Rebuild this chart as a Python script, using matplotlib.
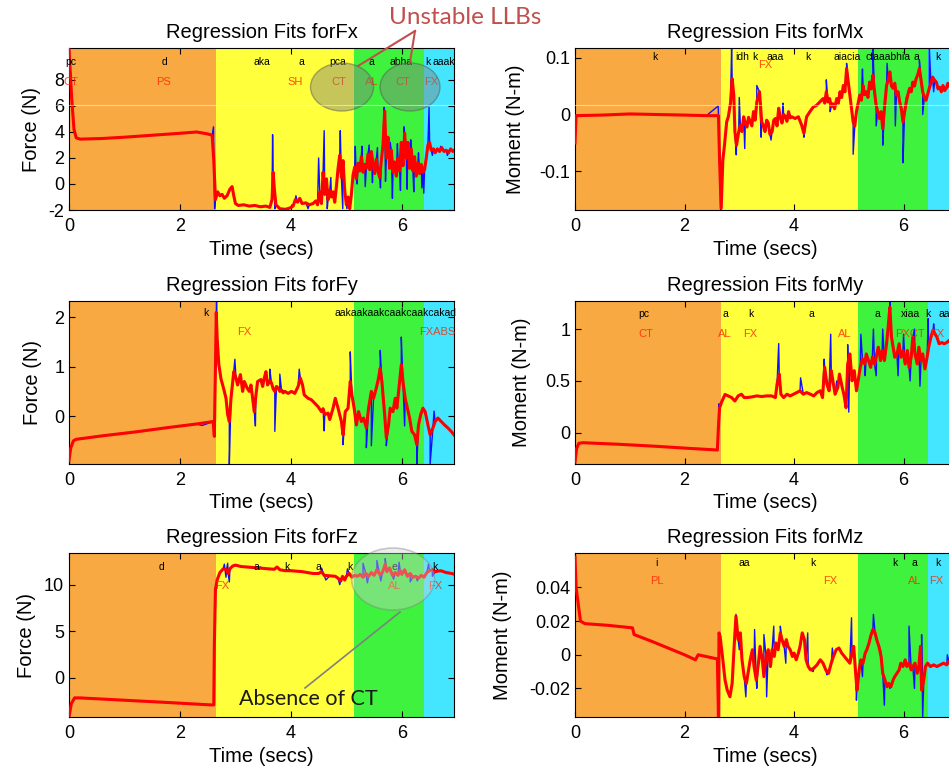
import numpy as np
import matplotlib
matplotlib.use("Agg")
import matplotlib.pyplot as plt
import matplotlib.transforms as mtransforms
from matplotlib.patches import Ellipse
from matplotlib.lines import Line2D

plt.rcParams['font.family'] = ['Liberation Sans', 'DejaVu Sans']
plt.rcParams['axes.unicode_minus'] = False

# phase boundaries (secs) and their colours
bounds_left = [0, 2.65, 5.13, 6.40, 7.0]
bounds_right = [0, 2.66, 5.17, 6.45, 7.0]
phase_colors = ['#F8A942', '#FFFF3C', '#3EF23E', '#44E6FF']

xticks = [0, 2, 4, 6]

# ---- Fx ----
fx_red = [(0.00, 10.4), (0.05, 6.5), (0.09, 4.2), (0.13, 3.55), (0.2, 3.45), (0.6, 3.5), (1.0, 3.6),
          (1.5, 3.75), (2.0, 3.9), (2.3, 4.0), (2.5, 3.85), (2.58, 3.75),
          (2.61, 1.8), (2.64, -1.2), (2.68, -0.6), (2.72, -0.9), (2.76, -0.8), (2.80, -1.1), (2.85, -0.9),
          (2.90, -0.4), (2.94, -0.2), (2.97, -0.9), (3.00, -1.5), (3.05, -1.65), (3.15, -1.6), (3.25, -1.7),
          (3.35, -1.65), (3.45, -1.75), (3.55, -1.7), (3.62, -1.8), (3.66, -1.2), (3.68, 0.9), (3.70, -0.3),
          (3.73, -1.6), (3.80, -1.9), (3.90, -1.95), (3.98, -1.85), (4.04, -1.7), (4.08, -1.2), (4.12, -1.4),
          (4.16, -1.1), (4.20, -1.5), (4.27, -1.45), (4.33, -1.6), (4.40, -1.5), (4.45, -1.3), (4.48, -1.6),
          (4.52, -0.6), (4.55, -1.5), (4.58, 0.9), (4.61, -0.8), (4.64, 0.4), (4.67, -1.2), (4.70, -0.5),
          (4.73, -1.0), (4.76, -0.6), (4.79, -1.4), (4.82, -0.2), (4.85, 1.2), (4.88, 2.2), (4.91, 0.5),
          (4.94, 1.8), (4.97, -0.5), (5.00, -1.6), (5.03, -1.0), (5.06, -1.9), (5.09, -0.8), (5.12, 0.7),
          (5.15, 1.3), (5.18, 0.4), (5.21, 1.6), (5.24, 1.0), (5.27, 2.1), (5.30, 0.9), (5.33, 1.5),
          (5.36, 1.2), (5.39, 2.3), (5.42, 1.1), (5.45, 2.5), (5.48, 1.6), (5.51, 0.8), (5.54, 1.9),
          (5.57, 1.0), (5.60, 0.5), (5.63, 1.8), (5.66, 3.0), (5.69, 5.6), (5.72, 2.0), (5.75, 3.6),
          (5.78, 1.2), (5.81, 2.6), (5.84, 0.9), (5.87, 1.7), (5.90, 0.6), (5.93, 2.0), (5.96, 1.0),
          (5.99, 3.2), (6.02, 1.4), (6.05, 3.9), (6.08, 2.0), (6.11, 3.2), (6.14, 1.2), (6.17, 2.7),
          (6.20, 1.0), (6.23, 2.1), (6.26, 0.6), (6.29, 1.6), (6.32, 0.8), (6.35, 1.5), (6.38, 0.9),
          (6.41, 1.1), (6.44, 2.0), (6.47, 3.0), (6.50, 3.2), (6.53, 2.6), (6.57, 2.7), (6.60, 2.4),
          (6.64, 2.7), (6.68, 2.5), (6.72, 2.8), (6.76, 2.5), (6.80, 2.6), (6.84, 2.4), (6.88, 2.7),
          (6.92, 2.5), (6.95, 2.6)]
fx_blue_extra = [(2.605, 4.4), (2.625, -1.9), (3.67, 3.8), (3.71, -1.9), (4.09, -0.9), (4.31, -1.9),
                 (4.50, 2.0), (4.60, 4.1), (4.655, -1.9), (4.72, 0.5), (4.89, 4.1), (4.935, -1.9),
                 (5.01, -1.9), (5.16, 2.9), (5.195, 0.0), (5.28, 2.9), (5.34, -0.2), (5.41, 3.0),
                 (5.47, 0.1), (5.56, 2.8), (5.615, -0.3), (5.68, 5.9), (5.705, 0.2), (5.79, 3.2),
                 (5.83, -1.1), (5.92, 3.1), (5.975, -0.5), (6.04, 4.4), (6.095, -0.4), (6.16, 3.4),
                 (6.215, -0.6), (6.30, 2.4), (6.36, -0.3), (6.395, -0.7), (6.49, 5.9), (6.55, 2.2),
                 (6.70, 2.9), (6.82, 2.2)]
fx_black_labels = [(0.03, 'pc'), (1.72, 'd'), (3.47, 'aka'), (4.19, 'a'), (4.85, 'pca'), (5.45, 'a'),
                   (5.99, 'abha'), (6.47, 'k'), (6.76, 'aaak')]
fx_red_labels = [(0.03, 'CT'), (1.71, 'PS'), (4.08, 'SH'), (4.86, 'CT'), (5.45, 'AL'), (6.01, 'CT'),
                 (6.52, 'FX')]

# ---- Mx ----
mx_red = [(0.0, -0.05), (0.02, -0.002), (0.5, -0.001), (1.0, 0.001), (1.5, 0.0), (2.0, -0.001),
          (2.4, -0.002), (2.62, -0.002), (2.64, -0.08), (2.67, -0.165), (2.70, -0.08), (2.73, -0.054),
          (2.77, -0.013), (2.80, -0.004), (2.84, 0.02), (2.87, 0.063), (2.90, 0.034), (2.92, -0.03),
          (2.95, -0.054), (2.99, -0.03), (3.02, -0.019), (3.05, -0.03), (3.08, -0.004), (3.11, -0.015),
          (3.14, -0.022), (3.17, -0.005), (3.20, -0.013), (3.23, -0.02), (3.26, 0.005), (3.29, -0.01),
          (3.32, 0.022), (3.37, 0.040), (3.41, -0.013), (3.44, -0.02), (3.47, -0.030), (3.50, -0.01),
          (3.53, -0.015), (3.56, -0.035), (3.60, -0.030), (3.63, -0.01), (3.66, -0.007), (3.69, -0.02),
          (3.72, 0.011), (3.75, -0.005), (3.78, -0.015), (3.81, 0.0), (3.84, -0.003), (3.87, -0.012),
          (3.90, 0.005), (3.93, -0.006), (3.96, -0.004), (4.02, -0.007), (4.08, -0.004), (4.14, -0.019),
          (4.18, -0.033), (4.23, -0.004), (4.29, 0.005), (4.35, 0.013), (4.41, 0.016), (4.47, 0.022),
          (4.53, 0.028), (4.56, 0.02), (4.59, 0.040), (4.62, 0.022), (4.65, 0.028), (4.68, 0.014),
          (4.71, 0.019), (4.74, 0.01), (4.78, 0.028), (4.81, 0.02), (4.84, 0.040), (4.87, 0.03),
          (4.90, 0.051), (4.93, 0.04), (4.96, 0.081), (5.00, 0.05), (5.02, 0.034), (5.05, 0.01),
          (5.08, -0.013), (5.11, -0.02), (5.14, 0.005), (5.17, 0.02), (5.20, 0.034), (5.23, 0.025),
          (5.26, 0.051), (5.29, 0.035), (5.32, 0.040), (5.35, 0.03), (5.38, 0.057), (5.41, 0.045),
          (5.44, 0.069), (5.47, 0.04), (5.50, 0.016), (5.53, 0.005), (5.56, -0.007), (5.59, 0.005),
          (5.62, -0.025), (5.66, 0.02), (5.69, 0.051), (5.72, 0.06), (5.75, 0.075), (5.78, 0.05),
          (5.81, 0.046), (5.84, 0.055), (5.87, 0.034), (5.90, 0.04), (5.93, 0.022), (5.96, 0.01),
          (5.99, -0.013), (6.02, 0.005), (6.05, 0.022), (6.08, 0.035), (6.11, 0.046), (6.14, 0.04),
          (6.17, 0.057), (6.20, 0.05), (6.23, 0.063), (6.26, 0.07), (6.29, 0.081), (6.32, 0.06),
          (6.35, 0.040), (6.38, 0.03), (6.41, 0.025), (6.44, 0.035), (6.47, 0.046), (6.50, 0.055),
          (6.53, 0.066), (6.57, 0.06), (6.60, 0.057), (6.63, 0.045), (6.66, 0.048), (6.69, 0.04),
          (6.72, 0.051), (6.75, 0.042), (6.78, 0.046), (6.81, 0.055), (6.84, 0.05), (6.87, 0.042),
          (6.90, 0.045), (6.95, 0.048)]
mx_blue_extra = [(2.615, 0.015), (2.66, -0.168), (2.86, 0.116), (2.945, -0.071), (3.00, 0.03),
                 (3.10, -0.06), (3.32, 0.051), (3.40, -0.04), (3.58, -0.045), (3.80, 0.02), (4.18, -0.04),
                 (4.59, 0.061), (4.66, 0.005), (4.96, 0.09), (5.08, -0.07), (5.25, 0.08), (5.44, 0.12),
                 (5.50, -0.02), (5.62, -0.054), (5.70, 0.09), (5.85, -0.02), (5.99, -0.085), (6.05, 0.03),
                 (6.29, 0.095), (6.35, 0.0), (6.47, 0.12), (6.55, 0.04)]
mx_black_labels = [(1.46, 'k'), (3.05, 'idh'), (3.29, 'k'), (3.66, 'aaa'), (4.26, 'k'), (4.97, 'aiacia'),
                   (5.72, 'ctaaabhia'), (6.24, 'a'), (6.63, 'k')]
mx_red_labels = [(3.47, 'FX')]

# ---- Fy ----
fy_red = [(0.0, -0.9), (0.03, -0.65), (0.08, -0.5), (0.13, -0.47), (0.6, -0.4), (1.2, -0.32),
          (1.8, -0.23), (2.3, -0.16), (2.6, -0.11), (2.62, -0.41), (2.64, 1.0), (2.655, 2.1),
          (2.67, 1.6), (2.70, 1.05), (2.74, 0.75), (2.77, 0.63), (2.80, 0.50), (2.83, 0.36), (2.86, 0.03),
          (2.89, -0.11), (2.92, 0.36), (2.97, 0.90), (3.01, 0.77), (3.04, 0.63), (3.09, 0.84), (3.13, 0.50),
          (3.16, 0.70), (3.21, 0.57), (3.25, 0.50), (3.28, 0.63), (3.31, 0.36), (3.34, 0.09), (3.37, 0.43),
          (3.40, 0.70), (3.46, 0.74), (3.49, 0.6), (3.52, 0.77), (3.55, 0.90), (3.58, 0.63), (3.62, 0.72),
          (3.65, 0.67), (3.68, 0.55), (3.71, 0.50), (3.74, 0.6), (3.77, 0.57), (3.80, 0.5), (3.83, 0.53),
          (3.86, 0.47), (3.89, 0.50), (3.95, 0.46), (4.01, 0.50), (4.07, 0.46), (4.13, 0.60), (4.17, 0.77),
          (4.21, 0.63), (4.24, 0.43), (4.31, 0.36), (4.37, 0.33), (4.43, 0.26), (4.49, 0.19), (4.55, 0.09),
          (4.58, 0.15), (4.61, 0.03), (4.67, 0.06), (4.70, -0.07), (4.76, 0.16), (4.80, 0.36), (4.85, 0.16),
          (4.91, -0.11), (4.94, -0.38), (4.98, 0.09), (5.03, 0.16), (5.07, 0.70), (5.10, 0.43), (5.14, 0.16),
          (5.18, -0.18), (5.22, 0.09), (5.27, -0.11), (5.31, -0.04), (5.36, -0.24), (5.40, 0.16),
          (5.45, 0.50), (5.49, 0.36), (5.54, 0.57), (5.58, 0.77), (5.61, 0.97), (5.64, 0.70), (5.69, 0.03),
          (5.72, -0.44), (5.76, -0.18), (5.79, 0.16), (5.84, 0.09), (5.88, 0.36), (5.91, 0.16), (5.96, 0.70),
          (5.99, 1.04), (6.02, 0.70), (6.06, 0.36), (6.10, 0.16), (6.14, -0.04), (6.18, -0.31), (6.23, -0.38),
          (6.27, -0.58), (6.30, -0.18), (6.34, 0.03), (6.38, 0.16), (6.42, 0.09), (6.47, -0.18), (6.51, -0.38),
          (6.56, -0.24), (6.60, -0.11), (6.65, -0.04), (6.71, -0.11), (6.77, -0.18), (6.83, -0.24),
          (6.89, -0.31), (6.94, -0.38)]
fy_blue_extra = [(2.4, -0.19), (2.6, -0.19), (2.66, 2.38), (2.89, -0.97), (2.99, 1.15), (3.36, -0.2),
                 (3.62, 0.95), (3.71, -0.31), (3.80, 0.85), (4.15, 0.95), (4.60, -0.3), (4.94, -0.58),
                 (5.07, 1.3), (5.36, -0.64), (5.45, -0.6), (5.61, 1.33), (5.72, -0.6), (5.99, 1.6),
                 (6.05, -0.2), (6.27, -0.97), (6.51, -0.97), (6.58, 0.1)]
fy_black_labels = [(2.47, 'k'), (5.88, 'aakaakaakcaakcaakcakad')]
fy_red_labels = [(3.16, 'FX'), (6.63, 'FXABS')]

# ---- My ----
my_red = [(0.0, -0.28), (0.03, -0.15), (0.07, -0.1), (0.15, -0.095), (0.8, -0.11), (1.5, -0.13),
          (2.1, -0.15), (2.6, -0.165), (2.62, 0.06), (2.64, 0.24), (2.68, 0.30), (2.74, 0.37), (2.80, 0.355),
          (2.86, 0.34), (2.92, 0.307), (2.98, 0.356), (3.04, 0.372), (3.09, 0.34), (3.14, 0.34),
          (3.23, 0.346), (3.32, 0.356), (3.41, 0.35), (3.50, 0.356), (3.59, 0.356), (3.66, 0.34),
          (3.69, 0.469), (3.73, 0.566), (3.76, 0.372), (3.81, 0.34), (3.87, 0.372), (3.93, 0.356),
          (3.99, 0.372), (4.05, 0.388), (4.11, 0.405), (4.17, 0.372), (4.23, 0.388), (4.30, 0.372),
          (4.36, 0.356), (4.42, 0.388), (4.48, 0.405), (4.52, 0.34), (4.56, 0.631), (4.60, 0.469),
          (4.64, 0.405), (4.68, 0.599), (4.71, 0.502), (4.75, 0.372), (4.80, 0.437), (4.83, 0.566),
          (4.88, 0.437), (4.91, 0.372), (4.95, 0.243), (4.98, 0.663), (5.02, 0.76), (5.06, 0.502),
          (5.10, 0.599), (5.14, 0.405), (5.18, 0.534), (5.21, 0.631), (5.25, 0.712), (5.29, 0.663),
          (5.32, 0.76), (5.36, 0.696), (5.40, 0.631), (5.43, 0.728), (5.47, 0.663), (5.51, 0.76),
          (5.54, 0.825), (5.58, 0.696), (5.61, 0.793), (5.65, 0.696), (5.69, 0.858), (5.72, 1.02),
          (5.75, 1.21), (5.78, 0.922), (5.81, 0.825), (5.84, 0.728), (5.88, 0.76), (5.92, 0.858),
          (5.95, 0.728), (5.99, 0.793), (6.03, 0.663), (6.07, 0.793), (6.10, 0.631), (6.14, 0.728),
          (6.17, 0.922), (6.21, 0.76), (6.25, 0.663), (6.28, 0.825), (6.32, 0.696), (6.35, 0.76),
          (6.39, 0.615), (6.43, 0.728), (6.46, 0.825), (6.50, 0.922), (6.54, 0.99), (6.57, 0.955),
          (6.61, 0.922), (6.65, 0.858), (6.70, 0.87), (6.74, 0.858), (6.79, 0.87), (6.83, 0.89),
          (6.88, 0.87), (6.94, 0.86)]
my_blue_extra = [(2.63, 0.28), (3.72, 0.86), (4.12, 0.53), (4.55, 0.71), (4.67, 0.95), (4.78, 0.5),
                 (4.98, 0.85), (5.0, 0.2), (5.22, 0.95), (5.30, 0.55), (5.45, 1.0), (5.50, 0.55),
                 (5.62, 1.0), (5.75, 1.28), (5.90, 0.55), (6.00, 0.95), (6.12, 0.5), (6.20, 1.0),
                 (6.30, 0.45), (6.45, 1.1), (6.55, 1.05)]
my_black_labels = [(1.25, 'pc'), (2.74, 'a'), (3.22, 'k'), (4.31, 'a'), (5.52, 'a'), (6.12, 'xiaa'),
                   (6.45, 'k'), (6.75, 'aa')]
my_red_labels = [(1.3, 'CT'), (2.74, 'AL'), (3.2, 'FX'), (4.92, 'AL'), (6.12, 'PXCT'), (6.62, 'FX')]

# ---- Fz ----
fz_red = [(0.0, -4.2), (0.04, -2.8), (0.1, -2.15), (0.2, -2.15), (1.0, -2.4), (1.8, -2.65), (2.55, -2.9),
          (2.61, -2.9), (2.62, 3.5), (2.64, 9.5), (2.67, 10.5), (2.72, 11.3), (2.78, 11.7), (2.84, 11.6),
          (2.87, 11.2), (2.90, 11.7), (2.95, 12.0), (3.0, 12.1), (3.1, 11.95), (3.2, 11.9), (3.3, 11.85),
          (3.4, 11.8), (3.5, 11.75), (3.6, 11.7), (3.7, 11.65), (3.75, 11.9), (3.8, 11.6), (3.9, 11.5),
          (4.0, 11.5), (4.1, 11.45), (4.2, 11.4), (4.3, 11.3), (4.4, 11.2), (4.5, 11.2), (4.55, 11.4),
          (4.6, 11.0), (4.7, 10.95), (4.8, 10.9), (4.85, 10.7), (4.9, 10.4), (4.93, 10.9), (4.97, 10.5),
          (5.0, 10.9), (5.05, 11.2), (5.1, 10.8), (5.15, 11.0), (5.2, 10.9), (5.25, 11.1), (5.3, 10.8),
          (5.35, 11.2), (5.4, 10.9), (5.45, 11.3), (5.5, 11.0), (5.55, 11.6), (5.6, 11.1), (5.65, 11.3),
          (5.7, 12.2), (5.73, 11.4), (5.78, 11.8), (5.83, 11.0), (5.88, 11.3), (5.93, 11.0), (5.97, 11.5),
          (6.0, 11.1), (6.05, 11.6), (6.1, 10.9), (6.15, 11.2), (6.2, 10.8), (6.25, 10.9), (6.3, 10.7),
          (6.35, 11.0), (6.4, 10.8), (6.45, 11.3), (6.5, 11.5), (6.55, 11.6), (6.6, 11.4), (6.7, 11.5),
          (6.8, 11.3), (6.9, 11.2), (6.95, 11.1)]
fz_blue_extra = [(2.80, 12.2), (2.83, 10.8), (2.86, 12.3), (2.89, 10.3), (3.45, 11.9), (4.55, 11.8),
                 (4.63, 10.5), (4.88, 10.0), (5.02, 11.7), (5.30, 12.3), (5.38, 10.2), (5.55, 12.6),
                 (5.62, 10.4), (5.70, 12.8), (5.85, 10.6), (5.95, 12.4), (6.15, 10.3), (6.28, 10.4),
                 (6.48, 12.2), (6.55, 10.9)]
fz_black_labels = [(1.66, 'd'), (3.38, 'a'), (3.93, 'k'), (4.5, 'a'), (5.06, 'k'), (5.87, 'e'), (6.6, 'k')]
fz_red_labels = [(2.76, 'FX'), (5.87, 'AL'), (6.6, 'FX')]

# ---- Mz ----
mz_red = [(0.0, 0.058), (0.02, 0.04), (0.06, 0.03), (0.1, 0.02), (0.18, 0.0185), (0.6, 0.0175),
          (1.05, 0.016), (1.08, 0.012), (1.4, 0.008), (1.7, 0.004), (2.0, 0.0), (2.2, -0.003),
          (2.25, 0.0), (2.6, -0.0025), (2.62, -0.037), (2.63, 0.013), (2.65, 0.011), (2.70, -0.003),
          (2.74, -0.015), (2.78, -0.021), (2.83, -0.025), (2.87, -0.017), (2.91, 0.007), (2.94, 0.023),
          (2.98, 0.009), (3.02, 0.013), (3.05, -0.003), (3.09, -0.013), (3.13, -0.017), (3.17, -0.009),
          (3.20, -0.003), (3.24, 0.003), (3.27, -0.007), (3.31, -0.015), (3.35, -0.005), (3.38, 0.005),
          (3.42, -0.003), (3.45, -0.013), (3.49, -0.001), (3.53, 0.003), (3.57, -0.007), (3.60, 0.003),
          (3.64, -0.001), (3.67, 0.007), (3.71, 0.003), (3.75, 0.013), (3.78, 0.009), (3.82, 0.005),
          (3.86, 0.009), (3.89, 0.005), (3.93, 0.003), (3.97, -0.001), (4.00, 0.001), (4.04, -0.003),
          (4.08, 0.001), (4.11, 0.005), (4.15, 0.013), (4.19, 0.009), (4.22, -0.003), (4.26, -0.007),
          (4.30, -0.009), (4.36, -0.008), (4.42, -0.006), (4.48, -0.003), (4.53, -0.005), (4.58, -0.009),
          (4.63, -0.011), (4.68, -0.005), (4.72, -0.001), (4.77, 0.003), (4.82, 0.004), (4.87, 0.001),
          (4.92, -0.001), (4.97, -0.003), (5.02, -0.005), (5.06, 0.001), (5.09, 0.005), (5.13, -0.013),
          (5.15, -0.021), (5.19, -0.009), (5.22, -0.003), (5.26, -0.005), (5.30, 0.001), (5.33, 0.003),
          (5.37, 0.007), (5.40, 0.011), (5.44, 0.015), (5.48, 0.013), (5.51, 0.009), (5.55, 0.005),
          (5.59, -0.001), (5.62, -0.011), (5.66, -0.015), (5.70, -0.019), (5.73, -0.017), (5.77, -0.019),
          (5.81, -0.015), (5.84, -0.013), (5.88, -0.011), (5.92, -0.009), (5.95, -0.005), (5.99, -0.007),
          (6.03, -0.003), (6.06, -0.007), (6.10, -0.005), (6.14, -0.009), (6.17, -0.007), (6.21, -0.005),
          (6.25, -0.011), (6.28, -0.007), (6.31, 0.005), (6.33, -0.021), (6.37, -0.015), (6.40, -0.007),
          (6.44, -0.005), (6.49, -0.007), (6.55, -0.006), (6.61, -0.007), (6.67, -0.006), (6.73, -0.005),
          (6.79, -0.006), (6.83, -0.004), (6.90, -0.006)]
mz_blue_extra = [(2.94, 0.024), (3.00, 0.003), (3.12, -0.025), (3.28, 0.015), (3.32, -0.02), (3.45, 0.012),
                 (3.50, -0.025), (3.63, 0.017), (3.75, 0.017), (3.85, -0.005), (4.25, 0.013), (4.35, -0.01),
                 (4.60, -0.012), (4.70, 0.004), (5.05, 0.022), (5.14, -0.027), (5.25, -0.013), (5.45, 0.024),
                 (5.58, 0.003), (5.65, -0.03), (5.75, -0.02), (6.10, 0.017), (6.20, -0.02), (6.33, 0.012),
                 (6.35, -0.037), (6.80, 0.0)]
mz_black_labels = [(1.48, 'i'), (3.1, 'aa'), (4.35, 'k'), (5.85, 'k'), (6.2, 'a'), (6.62, 'k')]
mz_red_labels = [(1.5, 'PL'), (4.66, 'FX'), (6.2, 'AL'), (6.6, 'FX')]


def merge(red, extra):
    pts = sorted(red + extra, key=lambda p: p[0])
    return np.array(pts).T


W, H = 949, 772
fig = plt.figure(figsize=(W / 100, H / 100), dpi=100)


def box(x0, x1, y0, y1):
    return [x0 / W, 1 - y1 / H, (x1 - x0) / W, (y1 - y0) / H]


panels = [
    # name, ylabel, axes box, bounds, red, blue extra, ylim, yticks, yticklabels, black, red labels, label y, ylabel pad
    ('Fx', 'Force (N)', box(69, 454, 48, 210), bounds_left, fx_red, fx_blue_extra, (-2, 10.46),
     [-2, 0, 2, 4, 6, 8], ['-2', '0', '2', '4', '6', '8'], fx_black_labels, fx_red_labels, (0.914, 0.79), 5),
    ('Mx', 'Moment (N-m)', box(575, 955, 48, 210), bounds_right, mx_red, mx_blue_extra, (-0.168, 0.117),
     [-0.1, 0, 0.1], ['-0.1', '0', '0.1'], mx_black_labels, mx_red_labels, (0.944, 0.895), 10),
    ('Fy', 'Force (N)', box(69, 454, 301, 464), bounds_left, fy_red, fy_blue_extra, (-0.97, 2.33),
     [0, 1, 2], ['0', '1', '2'], fy_black_labels, fy_red_labels, (0.926, 0.81), 9),
    ('My', 'Moment (N-m)', box(575, 955, 301, 464), bounds_right, my_red, my_blue_extra, (-0.30, 1.27),
     [0, 0.5, 1], ['0', '0.5', '1'], my_black_labels, my_red_labels, (0.92, 0.80), 10),
    ('Fz', 'Force (N)', box(69, 454, 553, 717), bounds_left, fz_red, fz_blue_extra, (-4.2, 13.4),
     [0, 5, 10], ['0', '5', '10'], fz_black_labels, fz_red_labels, (0.915, 0.80), 6),
    ('Mz', 'Moment (N-m)', box(575, 955, 553, 717), bounds_right, mz_red, mz_blue_extra, (-0.037, 0.0605),
     [-0.02, 0, 0.02, 0.04], ['-0.02', '0', '0.02', '0.04'], mz_black_labels, mz_red_labels, (0.94, 0.83), 12),
]

for (name, ylab, rect, bnds, red, extra, ylim, yt, ytl, blk, rlab, ly, ypad) in panels:
    ax = fig.add_axes(rect)
    for i, c in enumerate(phase_colors):
        ax.axvspan(bnds[i], bnds[i + 1], color=c, lw=0, zorder=0)
    tb, vb = merge(red, extra)
    tr, vr = np.array(red).T
    ax.plot(tb, vb, color='#1010FF', lw=1.0, zorder=2)
    ax.plot(tr, vr, color='#FF0000', lw=2.2, zorder=3)
    ax.set_xlim(0, 6.94)
    ax.set_ylim(*ylim)
    ax.set_xticks(xticks)
    ax.set_yticks(yt)
    ax.set_yticklabels(ytl)
    ax.tick_params(direction='in', top=True, right=True, length=4, width=0.8, labelsize=13)
    ax.tick_params(axis='x', pad=6)
    ax.set_title('Regression Fits for' + name, fontsize=14.5, pad=7)
    ax.set_xlabel('Time (secs)', fontsize=14.5, labelpad=3)
    ax.set_ylabel(ylab, fontsize=14.5, labelpad=ypad)
    trans = mtransforms.blended_transform_factory(ax.transData, ax.transAxes)
    for t, s in blk:
        ax.text(t, ly[0], s, transform=trans, ha='center', va='center', fontsize=7.5, color='black', zorder=4)
    for t, s in rlab:
        ax.text(t, ly[1], s, transform=trans, ha='center', va='center', fontsize=8, color='#FF2200',
                alpha=0.8, zorder=4)


def fp(x, y):
    return (x / W, 1 - y / H)


# callouts drawn on top of the figure
for cx, cy, w, h in [(342, 87, 63, 48), (410, 87, 60, 48)]:
    fig.add_artist(Ellipse(fp(cx, cy), w / W, h / H, transform=fig.transFigure,
                           facecolor='#808080', alpha=0.45, edgecolor='#505050', lw=1.0))
fig.add_artist(Ellipse(fp(393, 579), 83 / W, 62 / H, transform=fig.transFigure,
                       facecolor='#D0D0D0', alpha=0.4, edgecolor='#808080', lw=1.2))

for ex, ey in [(358, 66), (410, 62)]:
    fig.add_artist(Line2D([415 / W, ex / W], [1 - 31 / H, 1 - ey / H], color='#C0504D', lw=1.5,
                          transform=fig.transFigure))
fig.text(465 / W, 1 - 18 / H, 'Unstable LLBs', color='#C0504D', fontsize=17.5, family=['Lato', 'DejaVu Sans'],
         ha='center', va='center')

fig.add_artist(Line2D([305 / W, 400 / W], [1 - 688 / H, 1 - 612 / H], color='#808080', lw=1.2,
                      transform=fig.transFigure))
fig.text(308 / W, 1 - 699 / H, 'Absence of CT', color='#1A1A1A', fontsize=15.5, family=['Lato', 'DejaVu Sans'],
         ha='center', va='center')

# faint scan line across the picture
fig.add_artist(Line2D([0, 1], [1 - 104.5 / H, 1 - 104.5 / H], color='white', lw=0.8, alpha=0.5,
                      transform=fig.transFigure))

fig.savefig('out.png', dpi=100)
